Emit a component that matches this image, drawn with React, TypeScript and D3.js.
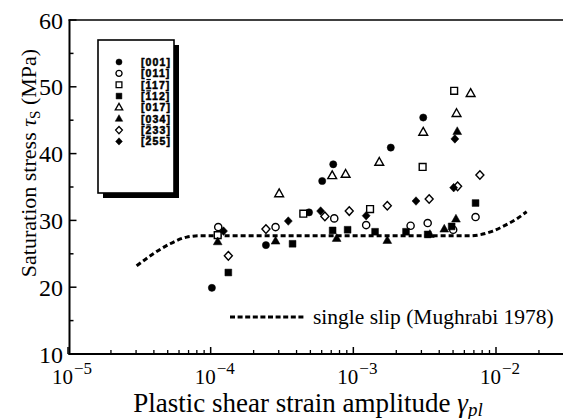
import React from 'react';
import * as d3 from 'd3';

const W = 563, H = 419;
const yTicks = [10, 20, 30, 40, 50, 60];
const yMinor = [15, 25, 35, 45, 55];
const xTickExps = [-5, -4, -3, -2];

// [001] filled circles
const s001: [number, number][] = [[1.02e-4, 19.9], [2.44e-4, 26.3], [4.89e-4, 31.2], [6.05e-4, 35.9], [7.23e-4, 38.4], [1.83e-3, 40.9], [3.09e-3, 45.4]];
// [011] open circles
const s011: [number, number][] = [[1.13e-4, 29.0], [2.85e-4, 29.0], [7.35e-4, 30.3], [1.23e-3, 29.3], [2.52e-3, 29.2], [3.32e-3, 29.6], [5.01e-3, 28.6], [7.19e-3, 30.5]];
// [-117] open squares
const s117: [number, number][] = [[1.12e-4, 27.8], [4.46e-4, 31.0], [1.31e-3, 31.7], [3.06e-3, 38.0], [5.09e-3, 49.4]];
// [-112] filled squares
const s112: [number, number][] = [[1.33e-4, 22.2], [3.75e-4, 26.5], [7.16e-4, 28.5], [9.12e-4, 28.6], [1.42e-3, 28.3], [2.34e-3, 28.3], [3.32e-3, 27.9], [4.89e-3, 29.1], [7.19e-3, 32.6]];
// [017] open triangles
const s017: [number, number][] = [[3.02e-4, 34.0], [7.11e-4, 36.7], [8.83e-4, 36.9], [1.52e-3, 38.7], [3.09e-3, 43.2], [5.29e-3, 46.0], [6.64e-3, 49.0]];
// [034] filled triangles
const s034: [number, number][] = [[1.12e-4, 26.8], [2.85e-4, 26.9], [7.64e-4, 27.3], [1.73e-3, 27.0], [3.44e-3, 27.9], [4.34e-3, 28.7], [5.24e-3, 30.2], [5.35e-3, 43.3]];
// [-233] open diamonds
const s233: [number, number][] = [[1.33e-4, 24.7], [2.44e-4, 28.7], [6.32e-4, 30.6], [9.36e-4, 31.4], [1.73e-3, 32.2], [3.40e-3, 33.2], [5.38e-3, 35.1], [7.71e-3, 36.8]];
// [-255] filled diamonds
const s255: [number, number][] = [[1.23e-4, 28.4], [3.50e-4, 29.9], [5.90e-4, 31.4], [1.23e-3, 30.7], [2.75e-3, 32.9], [5.05e-3, 34.9], [5.15e-3, 42.2]];

// single slip curve (Mughrabi 1978)
const slipCurve: [number, number][] = [[3.03e-5, 23.2], [3.96e-5, 25.0], [5.19e-5, 26.5], [6.79e-5, 27.5], [8.4e-5, 27.7], [6.56e-3, 27.7], [7.71e-3, 27.85], [9.5e-3, 28.4], [1.12e-2, 29.1], [1.39e-2, 30.2], [1.64e-2, 31.3]];

type Shape = 'circle' | 'square' | 'triangle' | 'diamond';
const seriesNames = ['001', '011', '117', '112', '017', '034', '233', '255'];
const seriesBar = [false, false, true, true, false, false, true, true];
const seriesShape: Shape[] = ['circle', 'circle', 'square', 'square', 'triangle', 'triangle', 'diamond', 'diamond'];
const seriesFilled = [true, false, false, true, false, true, false, true];
const seriesData = [s001, s011, s117, s112, s017, s034, s233, s255];

function markerPath(shape: Shape, s: number): string {
  if (shape === 'circle') {
    const r = 3.6 * s;
    return `M${r},0A${r},${r},0,1,1,${-r},0A${r},${r},0,1,1,${r},0Z`;
  }
  if (shape === 'square') {
    const h = 3.4 * s;
    return `M${-h},${-h}H${h}V${h}H${-h}Z`;
  }
  if (shape === 'triangle') {
    const w = 4.4 * s;
    return `M0,${-4.8 * s}L${w},${3.0 * s}L${-w},${3.0 * s}Z`;
  }
  const w = 4.0 * s, hh = 4.3 * s;
  return `M0,${-hh}L${w},0L0,${hh}L${-w},0Z`;
}

export default function App() {
  const x = d3.scaleLog().domain([1e-5, 1e-2]).range([68, 496]);
  const y = d3.scaleLinear().domain([10, 60]).range([354, 20]);
  const axisLeft = 69.5;
  const axisBottom = 354;

  const line = d3.line<[number, number]>()
    .x(d => x(d[0]))
    .y(d => y(d[1]))
    .curve(d3.curveMonotoneX);

  const minorX: number[] = [];
  for (let e = -5; e <= -2; e++) {
    for (let m = 2; m <= 9; m++) {
      const v = m * Math.pow(10, e);
      if (x(v) < W - 2) minorX.push(v);
    }
  }

  const serif = '"Liberation Serif", "Times New Roman", serif';
  const sans = '"Liberation Sans", Arial, sans-serif';
  const legendRowY = (i: number) => 62 + i * 11.35;
  const lfs = 10.5;
  const lx = 141;
  const bracketW = 0.333 * lfs + 1.1;
  const digitW = 0.556 * lfs;

  return (
    <svg width={W} height={H} style={{ position: 'absolute', left: 0, top: 0, background: '#fff' }}>
      <rect x={0} y={0} width={W} height={H} fill="#fff" />
      {/* axes */}
      <line x1={axisLeft} y1={19.5} x2={axisLeft} y2={axisBottom + 1} stroke="#000" strokeWidth={2} />
      <line x1={axisLeft - 1} y1={axisBottom} x2={W} y2={axisBottom} stroke="#000" strokeWidth={2} />
      <line x1={axisLeft - 1} y1={20} x2={W} y2={20} stroke="#000" strokeWidth={1.5} />
      {yTicks.map(t => (
        <g key={'yt' + t}>
          <line x1={axisLeft} x2={axisLeft + 7} y1={y(t)} y2={y(t)} stroke="#000" strokeWidth={1.5} />
          <text x={63} y={y(t) + 8.5} textAnchor="end" fontFamily={serif} fontSize={24}>{t}</text>
        </g>
      ))}
      {yMinor.map(t => (
        <line key={'ym' + t} x1={axisLeft} x2={axisLeft + 4} y1={y(t)} y2={y(t)} stroke="#000" strokeWidth={1.5} />
      ))}
      {xTickExps.map(e => (
        <g key={'xt' + e}>
          <line x1={x(Math.pow(10, e))} x2={x(Math.pow(10, e))} y1={axisBottom} y2={axisBottom - 7} stroke="#000" strokeWidth={1.5} />
          <text x={x(Math.pow(10, e)) - 16} y={384} fontFamily={serif} fontSize={21}>
            10<tspan dx={1} dy={-10} fontSize={17}>{'\u2212' + Math.abs(e)}</tspan>
          </text>
        </g>
      ))}
      {minorX.map((v, i) => (
        <line key={'xm' + i} x1={x(v)} x2={x(v)} y1={axisBottom} y2={axisBottom - 4} stroke="#000" strokeWidth={1.3} />
      ))}
      {/* axis titles */}
      <text x={308} y={412} textAnchor="middle" fontFamily={serif} fontSize={27}>
        Plastic shear strain amplitude <tspan fontStyle="italic">γ</tspan><tspan fontStyle="italic" fontSize={19} dy={4}>pl</tspan>
      </text>
      <text transform="translate(36,163) rotate(-90)" textAnchor="middle" fontFamily={serif} fontSize={22}>
        Saturation stress <tspan fontStyle="italic">τ</tspan><tspan fontSize={15} dy={4}>S</tspan><tspan dy={-4}> (MPa)</tspan>
      </text>
      {/* single slip curve */}
      <path d={line(slipCurve) || ''} fill="none" stroke="#000" strokeWidth={3} strokeDasharray="5,3" />
      {/* data */}
      {seriesData.map((data, si) => (
        <g key={'s' + si}>
          {data.map((d, i) => (
            <path key={i} d={markerPath(seriesShape[si], 1)} transform={`translate(${x(d[0])},${y(d[1])})`}
              fill={seriesFilled[si] ? '#000' : '#fff'} stroke="#000" strokeWidth={seriesFilled[si] ? 0.5 : 1.4} />
          ))}
        </g>
      ))}
      {/* legend */}
      <rect x={103} y={45} width={76} height={153} fill="#000" />
      <rect x={98} y={40} width={76} height={153} fill="#fff" stroke="#000" strokeWidth={1.6} />
      {seriesNames.map((n, i) => (
        <g key={'lg' + i}>
          <path d={markerPath(seriesShape[i], 0.85)} transform={`translate(119,${legendRowY(i)})`}
            fill={seriesFilled[i] ? '#000' : '#fff'} stroke="#000" strokeWidth={seriesFilled[i] ? 0.5 : 1.3} />
          <text x={lx} y={legendRowY(i) + 4} fontFamily={sans} fontWeight="bold" fontSize={lfs} letterSpacing={1.1}
            stroke="#000" strokeWidth={0.5}>
            {'[' + n + ']'}
          </text>
          {seriesBar[i] && (
            <line x1={lx + bracketW + 0.8} x2={lx + bracketW + digitW - 0.6}
              y1={legendRowY(i) - 5.2} y2={legendRowY(i) - 5.2} stroke="#000" strokeWidth={1.2} />
          )}
        </g>
      ))}
      {/* curve legend */}
      <line x1={230} x2={306} y1={317} y2={317} stroke="#000" strokeWidth={3} strokeDasharray="5,2.6" />
      <text x={313} y={324} fontFamily={serif} fontSize={21.5}>single slip (Mughrabi 1978)</text>
    </svg>
  );
}
